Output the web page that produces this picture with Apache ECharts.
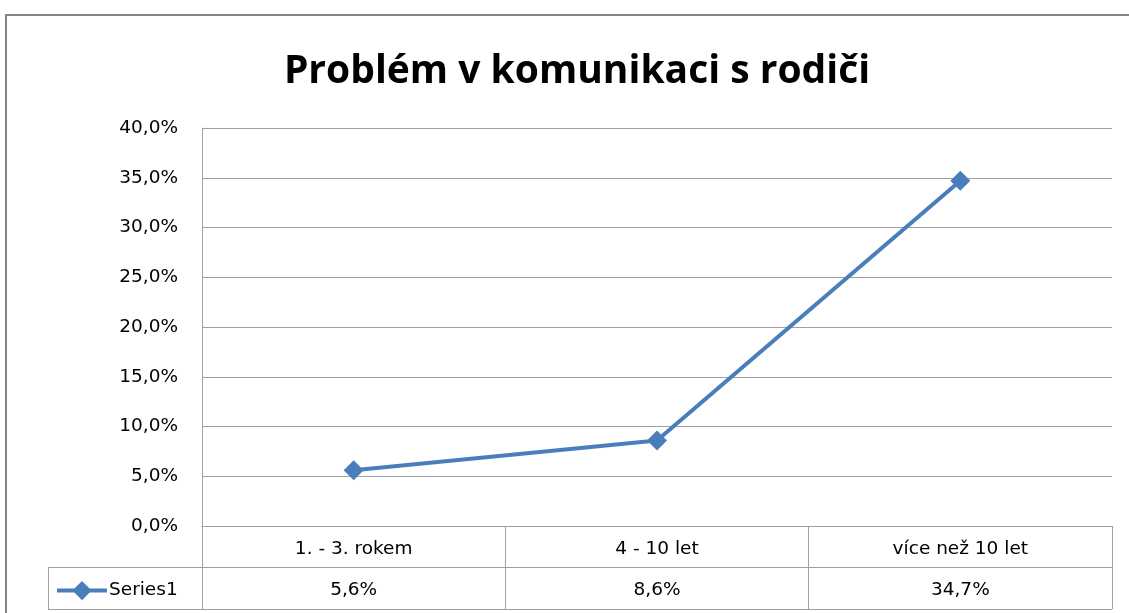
<!DOCTYPE html>
<html>
<head>
<meta charset="utf-8">
<script src="https://cdn.jsdelivr.net/npm/echarts@6/dist/echarts.min.js"></script>
<style>
html,body{margin:0;padding:0;background:#fff;}
#chart{width:1129px;height:613px;}
</style>
</head>
<body>
<div id="chart"></div>
<script>
const titleText = 'Problém v komunikaci s rodiči';
const categories = ['1. - 3. rokem', '4 - 10 let', 'více než 10 let'];
const seriesName = 'Series1';
const values = [0.056, 0.086, 0.347];
const yMin = 0, yMax = 0.4, yInterval = 0.05;

function pct(v, d) { return (v * 100).toFixed(d).replace('.', ',') + '%'; }
const valueLabels = values.map(v => pct(v, 1));

const TITLE_FONT = '"Open Sans", "Noto Sans", sans-serif';
const FONT = '"DejaVu Sans", "Noto Sans", sans-serif';
const FS = 18.5;
const GRID = '#a0a0a0';
const BLUE = '#4a7ebb';

const chart = echarts.init(document.getElementById('chart'));
chart.setOption({
  animation: false,
  backgroundColor: '#ffffff',
  textStyle: { fontFamily: FONT, color: '#000' },
  title: {
    text: titleText,
    left: 572,
    textAlign: 'center',
    top: 47,
    textStyle: { fontFamily: TITLE_FONT, fontWeight: 'bold', fontSize: 39, color: '#000' }
  },
  legend: {
    left: 50,
    top: 576,
    itemWidth: 50,
    itemHeight: 24,
    itemGap: 0,
    lineStyle: { width: 4 },
    textStyle: { fontFamily: FONT, fontSize: FS, color: '#000', padding: [0, 0, 0, -3] },
    data: [seriesName]
  },
  grid: { left: 202, right: 17, top: 128, bottom: 87, containLabel: false },
  xAxis: [
    {
      type: 'category',
      data: categories,
      boundaryGap: true,
      position: 'bottom',
      axisLine: { show: true, lineStyle: { color: GRID, width: 1 } },
      axisTick: { show: true, length: 83, lineStyle: { color: GRID, width: 1 } },
      axisLabel: { fontFamily: FONT, fontSize: FS, color: '#000', margin: 14 },
      splitLine: { show: false }
    },
    {
      type: 'category',
      data: valueLabels,
      boundaryGap: true,
      position: 'bottom',
      offset: 41,
      axisLine: { show: false },
      axisTick: { show: false },
      axisLabel: { fontFamily: FONT, fontSize: FS, color: '#000', margin: 14 },
      splitLine: { show: false }
    }
  ],
  yAxis: {
    type: 'value',
    min: yMin,
    max: yMax,
    interval: yInterval,
    axisLine: { show: true, lineStyle: { color: GRID, width: 1 } },
    axisTick: { show: false },
    axisLabel: { fontFamily: FONT, fontSize: FS, color: '#000', margin: 24, formatter: v => pct(v, 1) },
    splitLine: { show: true, lineStyle: { color: GRID, width: 1 } }
  },
  series: [{
    name: seriesName,
    type: 'line',
    xAxisIndex: 0,
    data: values,
    symbol: 'diamond',
    symbolSize: 20,
    lineStyle: { color: BLUE, width: 4 },
    itemStyle: { color: BLUE },
    label: { show: false }
  }],
  graphic: [
    { type: 'rect', shape: { x: 6, y: 15, width: 1300, height: 800 }, style: { fill: 'none', stroke: '#868686', lineWidth: 2 }, silent: true },
    { type: 'line', shape: { x1: 48, y1: 567.5, x2: 1112, y2: 567.5 }, style: { stroke: GRID, lineWidth: 1 }, silent: true },
    { type: 'line', shape: { x1: 48, y1: 609.5, x2: 1112, y2: 609.5 }, style: { stroke: GRID, lineWidth: 1 }, silent: true },
    { type: 'line', shape: { x1: 48.5, y1: 567, x2: 48.5, y2: 610 }, style: { stroke: GRID, lineWidth: 1 }, silent: true }
  ]
});
</script>
</body>
</html>
